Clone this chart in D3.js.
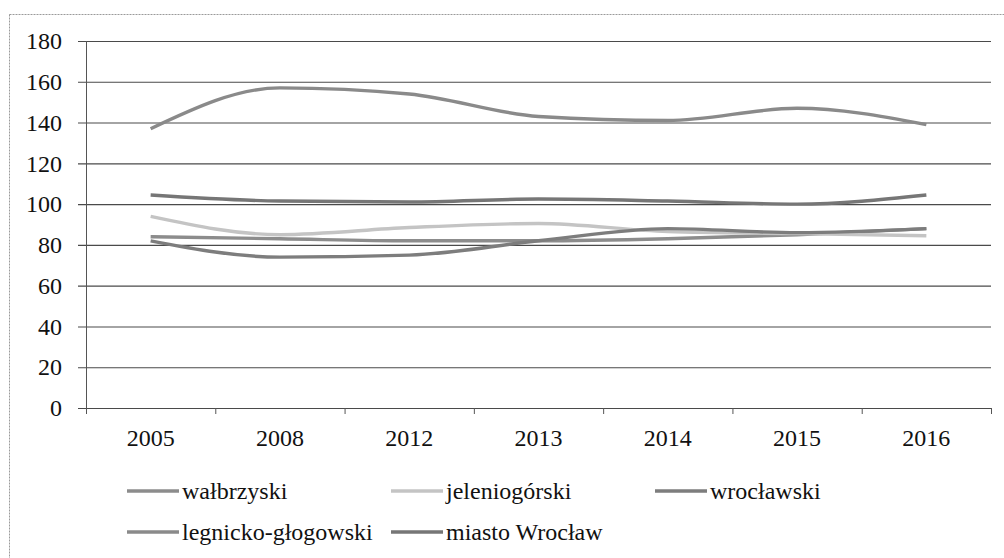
<!DOCTYPE html>
<html>
<head>
<meta charset="utf-8">
<script src="https://cdn.jsdelivr.net/npm/d3@7"></script>
<style>
  body { margin: 0; background: #fff; font-family: 'Liberation Serif', serif; }
  svg { display: block; }
</style>
</head>
<body>
<div id="chart"></div>
<script>
// data
const years = ['2005', '2008', '2012', '2013', '2014', '2015', '2016'];
const walbrzyski = [84, 83, 82, 82, 83, 85, 88];
const jeleniogorski = [94, 85, 88.5, 90.5, 86.5, 85.5, 84.5];
const wroclawski = [82, 74, 75, 82, 88, 86, 88];
const legnickoGlogowski = [137, 157, 154, 143, 141, 147, 139];
const miastoWroclaw = [104.5, 101.5, 101, 102.5, 101.5, 100, 104.5];
const yTicks = [0, 20, 40, 60, 80, 100, 120, 140, 160, 180];

const series = [
  { name: 'wałbrzyski', values: walbrzyski, color: '#8c8c8c' },
  { name: 'jeleniogórski', values: jeleniogorski, color: '#c4c4c4' },
  { name: 'wrocławski', values: wroclawski, color: '#7d7d7d' },
  { name: 'legnicko-głogowski', values: legnickoGlogowski, color: '#8a8a8a' },
  { name: 'miasto Wrocław', values: miastoWroclaw, color: '#767676' }
];

const serif = 'Liberation Serif';
const fs = 24;
const w = 1004, h = 558;
const pLeft = 86, pRight = 991, pTop = 41, pBottom = 408;

const svg = d3.select('#chart').append('svg')
  .attr('width', w)
  .attr('height', h)
  .attr('font-family', serif);

// outer frame of the scanned chart
svg.append('rect')
  .attr('x', 9.5).attr('y', 14.5)
  .attr('width', 1010).attr('height', 560)
  .attr('fill', 'none')
  .attr('stroke', '#9a9a9a')
  .attr('stroke-width', 1)
  .attr('stroke-dasharray', '2,1');

const x = d3.scaleBand().domain(years).range([pLeft, pRight]);
const y = d3.scaleLinear().domain([0, 180]).range([pBottom, pTop]);

// gridlines (they also serve as the little ticks left of the axis)
svg.append('g')
  .attr('transform', 'translate(78,0)')
  .call(d3.axisRight(y).tickValues(yTicks).tickSize(pRight - 78).tickFormat(''))
  .call(g => g.select('.domain').remove())
  .call(g => g.selectAll('line').attr('stroke', '#4a4a4a').attr('stroke-width', 1.1));

// y labels
svg.append('g')
  .attr('transform', 'translate(' + pLeft + ',0)')
  .call(d3.axisLeft(y).tickValues(yTicks).tickSize(0).tickPadding(24))
  .attr('font-family', serif)
  .attr('font-size', fs)
  .call(g => g.select('.domain').remove())
  .call(g => g.selectAll('text').attr('fill', '#111').attr('font-family', serif));

// y axis line
svg.append('line')
  .attr('x1', pLeft + 0.5).attr('x2', pLeft + 0.5)
  .attr('y1', y(180)).attr('y2', y(0) + 5)
  .attr('stroke', '#555').attr('stroke-width', 1);

// x axis line and labels
svg.append('g')
  .attr('transform', 'translate(0,' + pBottom + ')')
  .call(d3.axisBottom(x).tickSize(0).tickPadding(21))
  .attr('font-family', serif)
  .attr('font-size', fs)
  .call(g => g.select('.domain').attr('stroke', '#4a4a4a'))
  .call(g => g.selectAll('text').attr('fill', '#111').attr('font-family', serif));

// tick marks between categories
svg.append('g').selectAll('line')
  .data(years.concat(['end']))
  .enter()
  .append('line')
  .attr('x1', d => (d === 'end' ? x.range()[1] : x(d)) + 0.5)
  .attr('x2', d => (d === 'end' ? x.range()[1] : x(d)) + 0.5)
  .attr('y1', pBottom)
  .attr('y2', pBottom + 6)
  .attr('stroke', '#555');

// series lines
const line = d3.line()
  .x((d, i) => x(years[i]) + x.bandwidth() / 2)
  .y(d => y(d))
  .curve(d3.curveMonotoneX);

svg.append('g').selectAll('path')
  .data(series)
  .enter()
  .append('path')
  .attr('d', d => line(d.values))
  .attr('fill', 'none')
  .attr('stroke', d => d.color)
  .attr('stroke-width', 3.4)
  .attr('stroke-linejoin', 'round');

// legend, two rows
const legendPos = [[127, 491], [391, 491], [655, 491], [127, 532], [391, 532]];

const legend = svg.append('g').selectAll('g')
  .data(series)
  .enter()
  .append('g')
  .attr('transform', (d, i) => 'translate(' + legendPos[i][0] + ',' + legendPos[i][1] + ')');

legend.append('line')
  .attr('x1', 0).attr('x2', 52)
  .attr('y1', 0).attr('y2', 0)
  .attr('stroke', d => d.color)
  .attr('stroke-width', 3.4);

legend.append('text')
  .attr('x', 55)
  .attr('y', 8)
  .attr('fill', '#111')
  .attr('font-family', serif)
  .attr('font-size', fs)
  .text(d => d.name);
</script>
</body>
</html>
